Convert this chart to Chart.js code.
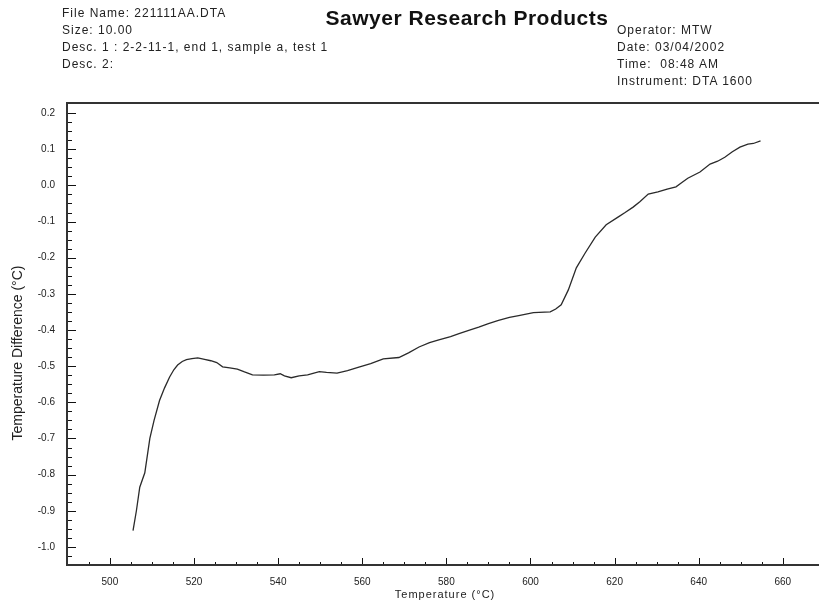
<!DOCTYPE html>
<html>
<head>
<meta charset="utf-8">
<script src="https://cdn.jsdelivr.net/npm/chart.js@4.4.0/dist/chart.umd.min.js"></script>
<style>
  body { margin: 0; background: #fff; }
  #wrap { position: relative; width: 819px; height: 602px; overflow: hidden; }
  .hdr { position: absolute; font: 12px Arial, "Liberation Sans", sans-serif; letter-spacing: 1px; color: #222; white-space: nowrap; line-height: 17px; }
  #title { position: absolute; left: 0; width: 934px; text-align: center; top: 6px; font: bold 21px Arial, "Liberation Sans", sans-serif; letter-spacing: 0.5px; color: #111; }
</style>
</head>
<body>
<div id="wrap">
  <canvas id="dtaChart"></canvas>
  <div id="title">Sawyer Research Products</div>
  <div class="hdr" style="left:62px; top:5px;">File Name: 221111AA.DTA<br>Size: 10.00<br>Desc. 1 : 2-2-11-1, end 1, sample a, test 1<br>Desc. 2:</div>
  <div class="hdr" style="left:617px; top:22px;">Operator: MTW<br>Date: 03/04/2002<br>Time:&nbsp; 08:48 AM<br>Instrument: DTA 1600</div>
</div>
<script>
// DTA curve
const temps = [505.5, 506.3, 507.1, 508.3, 509.5, 510.5, 511.8, 513.0, 514.2, 515.2,
  516.1, 517.2, 518.2, 519.5, 520.9, 522.5, 524.0, 525.4, 526.8, 528.5,
  530.3, 532.0, 533.9, 536.5, 539.1, 540.5, 541.5, 543.1, 545.0, 547.0,
  549.8, 551.5, 554.0, 556.5, 559.0, 562.0, 565.0, 568.7, 571.0, 573.5,
  576.0, 578.0, 581.0, 583.0, 585.5, 587.7, 590.0, 592.4, 595.0, 597.2,
  600.7, 604.7, 606.0, 607.3, 609.0, 610.9, 613.0, 615.4, 618.0, 620.9,
  622.5, 624.4, 626.0, 628.0, 630.3, 632.5, 634.6, 636.0, 637.4, 640.3,
  642.7, 644.5, 646.2, 648.0, 649.8, 651.7, 653.0, 654.7];
const diffs = [-0.955, -0.90, -0.835, -0.795, -0.70, -0.65, -0.595, -0.56, -0.53, -0.51,
  -0.497, -0.487, -0.482, -0.479, -0.477, -0.481, -0.485, -0.490, -0.502, -0.505,
  -0.508, -0.516, -0.524, -0.525, -0.524, -0.521, -0.527, -0.532, -0.527, -0.524,
  -0.515, -0.517, -0.519, -0.512, -0.503, -0.493, -0.480, -0.476, -0.463, -0.447,
  -0.435, -0.428, -0.418, -0.410, -0.400, -0.392, -0.382, -0.373, -0.365, -0.360,
  -0.352, -0.350, -0.342, -0.330, -0.289, -0.228, -0.187, -0.143, -0.109, -0.087,
  -0.075, -0.060, -0.045, -0.024, -0.018, -0.010, -0.004, 0.008, 0.020, 0.037,
  0.059, 0.067, 0.078, 0.093, 0.106, 0.114, 0.116, 0.123];

const xMajor = 20, xMinor = 5;
const yMajor = 0.1, yMinor = 0.025;

const points = temps.map((t, i) => ({ x: t, y: diffs[i] }));

// inward ticks, frame and axis titles
const frame = {
  id: 'frame',
  afterDraw(chart) {
    const { ctx, chartArea: a, scales: { x, y } } = chart;
    ctx.save();
    ctx.strokeStyle = '#111';
    ctx.lineWidth = 1;
    x.ticks.forEach(t => {
      const q = t.value / xMinor;
      if (Math.abs(q - Math.round(q)) > 1e-6) return;
      const major = Math.abs(t.value / xMajor - Math.round(t.value / xMajor)) < 1e-6;
      const px = Math.round(x.getPixelForValue(t.value)) + 0.5;
      ctx.beginPath();
      ctx.moveTo(px, a.bottom);
      ctx.lineTo(px, a.bottom - (major ? 7 : 3));
      ctx.stroke();
    });
    y.ticks.forEach(t => {
      const q = t.value / yMinor;
      if (Math.abs(q - Math.round(q)) > 1e-6) return;
      const major = Math.abs(t.value / yMajor - Math.round(t.value / yMajor)) < 1e-6;
      const py = Math.round(y.getPixelForValue(t.value)) + 0.5;
      ctx.beginPath();
      ctx.moveTo(a.left, py);
      ctx.lineTo(a.left + (major ? 9 : 5), py);
      ctx.stroke();
    });
    ctx.lineWidth = 2;
    ctx.strokeStyle = '#333';
    ctx.strokeRect(a.left, a.top, a.right - a.left + 10, a.bottom - a.top);
    ctx.fillStyle = '#222';
    ctx.font = '11px Arial, "Liberation Sans", sans-serif';
    ctx.letterSpacing = '1px';
    ctx.textAlign = 'center';
    ctx.textBaseline = 'middle';
    ctx.fillText('Temperature (°C)', 445, 595);
    ctx.letterSpacing = '0px';
    ctx.font = '14px Arial, "Liberation Sans", sans-serif';
    ctx.translate(18, 353);
    ctx.rotate(-Math.PI / 2);
    ctx.fillText('Temperature Difference (°C)', 0, 0);
    ctx.restore();
  }
};

new Chart(document.getElementById('dtaChart'), {
  type: 'scatter',
  data: {
    datasets: [{
      data: points,
      showLine: true,
      borderColor: '#2a2a2a',
      borderWidth: 1.3,
      pointRadius: 0,
      tension: 0
    }]
  },
  options: {
    responsive: true,
    maintainAspectRatio: false,
    animation: false,
    layout: { padding: { top: 103, left: 0, right: 0, bottom: 0 } },
    plugins: { legend: { display: false }, tooltip: { enabled: false } },
    scales: {
      x: {
        type: 'linear',
        min: 489.8,
        max: 668.6,
        grid: { display: false, drawTicks: false },
        border: { display: false },
        afterFit: s => { s.height = 37; s.paddingLeft = 0; s.paddingRight = 0; },
        ticks: {
          stepSize: xMinor,
          autoSkip: false,
          maxRotation: 0,
          padding: 11,
          color: '#222',
          font: { size: 10, family: 'Arial' },
          callback: v => Math.abs(v % xMajor) < 1e-6 ? String(v) : ''
        }
      },
      y: {
        min: -1.05,
        max: 0.228,
        grid: { display: false, drawTicks: false },
        border: { display: false },
        afterFit: s => { s.width = 67; s.paddingTop = 0; s.paddingBottom = 0; },
        ticks: {
          stepSize: yMinor,
          autoSkip: false,
          padding: 12,
          color: '#222',
          font: { size: 10, family: 'Arial' },
          callback: v => {
            const r = Math.round(v * 1000);
            return r % 100 === 0 ? (r / 1000).toFixed(1) : '';
          }
        }
      }
    }
  },
  plugins: [frame]
});
</script>
</body>
</html>
